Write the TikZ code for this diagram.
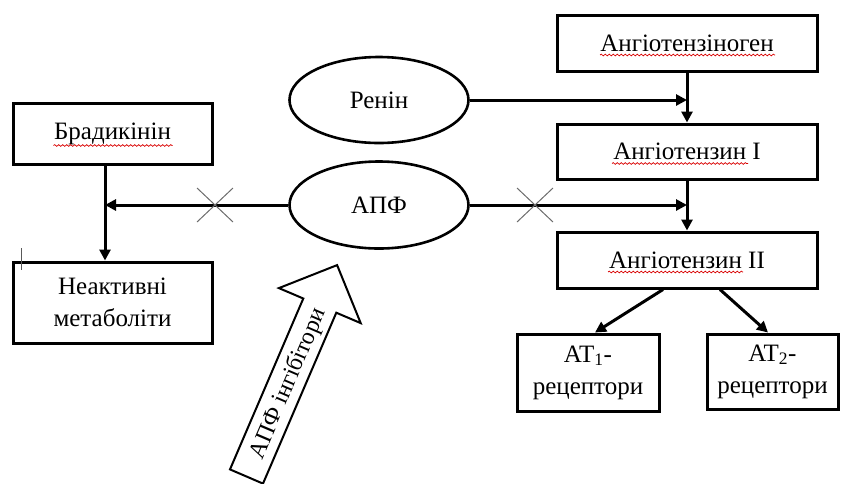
\documentclass[tikz,border=0pt]{standalone}
\usepackage{fontspec}
\setmainfont{Liberation Serif}
\usetikzlibrary{arrows.meta,calc,decorations.pathmorphing,shapes.geometric}
\tikzset{
  box/.style={draw, line width=3pt, rectangle, inner sep=0pt, align=center, font=\fontsize{25}{32}\selectfont},
  oval/.style={draw, line width=2.6pt, ellipse, inner sep=0pt, font=\fontsize{25}{30}\selectfont},
  conn/.style={line width=3pt, -{Triangle[length=11pt,width=11pt]}},
  xmark/.style={draw=gray!85!black, line width=1pt},
  spell/.style={draw=red!85!black, line width=0.7pt, decorate, decoration={snake, segment length=4pt, amplitude=0.9pt}},
  blockarrow/.style={draw, line width=2pt, line join=miter, fill=white},
}
\begin{document}
\begin{tikzpicture}[x=1pt,y=-1pt]
\useasboundingbox (0,0) rectangle (841,483);
% nodes
\node[box, minimum width=199pt, minimum height=61pt] (brad) at (112.5,133.5) {Брадикінін};
\node[box, minimum width=199pt, minimum height=81pt] (neak) at (112.5,302.5) {Неактивні\\метаболіти};
\node[box, minimum width=260pt, minimum height=56pt] (angn) at (687,43) {Ангіотензіноген};
\node[box, minimum width=260pt, minimum height=55pt] (ang1) at (687,151.5) {Ангіотензин I};
\node[box, minimum width=260pt, minimum height=56pt] (ang2) at (687,260) {Ангіотензин II};
\node[box, minimum width=142pt, minimum height=77pt] (at1) at (588,372.5) {AT\textsubscript{1}-\\рецептори};
\node[box, minimum width=131pt, minimum height=75pt] (at2) at (772.5,371.5) {AT\textsubscript{2}-\\рецептори};
\node[oval, minimum width=179pt, minimum height=86pt] (renin) at (379,100) {Ренін};
\node[oval, minimum width=179pt, minimum height=87pt] (apf) at (379,205) {АПФ};
% junctions
\coordinate (jL) at (105,205);
\coordinate (jR1) at (687,100);
\coordinate (jR2) at (687,205);
\coordinate (xL) at (215,205);
\coordinate (xR) at (535,205);
% connectors
\draw[conn] (brad.south -| jL) -- (neak.north -| jL);
\draw[conn] (apf.west) -- (jL);
\draw[conn] (renin.east) -- (jR1);
\draw[conn] (angn.south) -- (ang1.north);
\draw[conn] (apf.east) -- (jR2);
\draw[conn] (ang1.south) -- (ang2.north);
\draw[conn] ($(ang2.south)+(-24,0)$) -- ($(at1.north)+(7,0)$);
\draw[conn] ($(ang2.south)+(33,0)$) -- ($(at2.north)+(-4.5,0)$);
% crosses
\draw[xmark] ($(xL)+(-18,-17)$) -- ($(xL)+(18,17)$);
\draw[xmark] ($(xL)+(-18,17)$) -- ($(xL)+(18,-17)$);
\draw[xmark] ($(xR)+(-18,-17)$) -- ($(xR)+(18,17)$);
\draw[xmark] ($(xR)+(-18,17)$) -- ($(xR)+(18,-17)$);
% cursor tick
\draw[line width=0.9pt, gray!70!black] (21,248) -- (21,270);
% block arrow
\draw[blockarrow] (230,469.4) -- (303.3,298.5) -- (278.9,288.1) -- (337.1,265.1)
  -- (360.7,323.1) -- (336.3,312.7) -- (263,483.6) -- cycle;
\node[rotate=66.8, inner sep=0pt, font=\fontsize{24}{28}\selectfont] (inh) at (288.5,384) {АПФ інгібітори};
% spell-check underlines
\draw[spell] ($(brad.center)+(-59,12)$) -- ($(brad.center)+(60,12)$);
\draw[spell] ($(angn.center)+(-87,12)$) -- ($(angn.center)+(88,12)$);
\draw[spell] ($(ang1.center)+(-75,12)$) -- ($(ang1.center)+(61,12)$);
\draw[spell] ($(ang2.center)+(-79,12)$) -- ($(ang2.center)+(56,12)$);
\end{tikzpicture}
\end{document}
